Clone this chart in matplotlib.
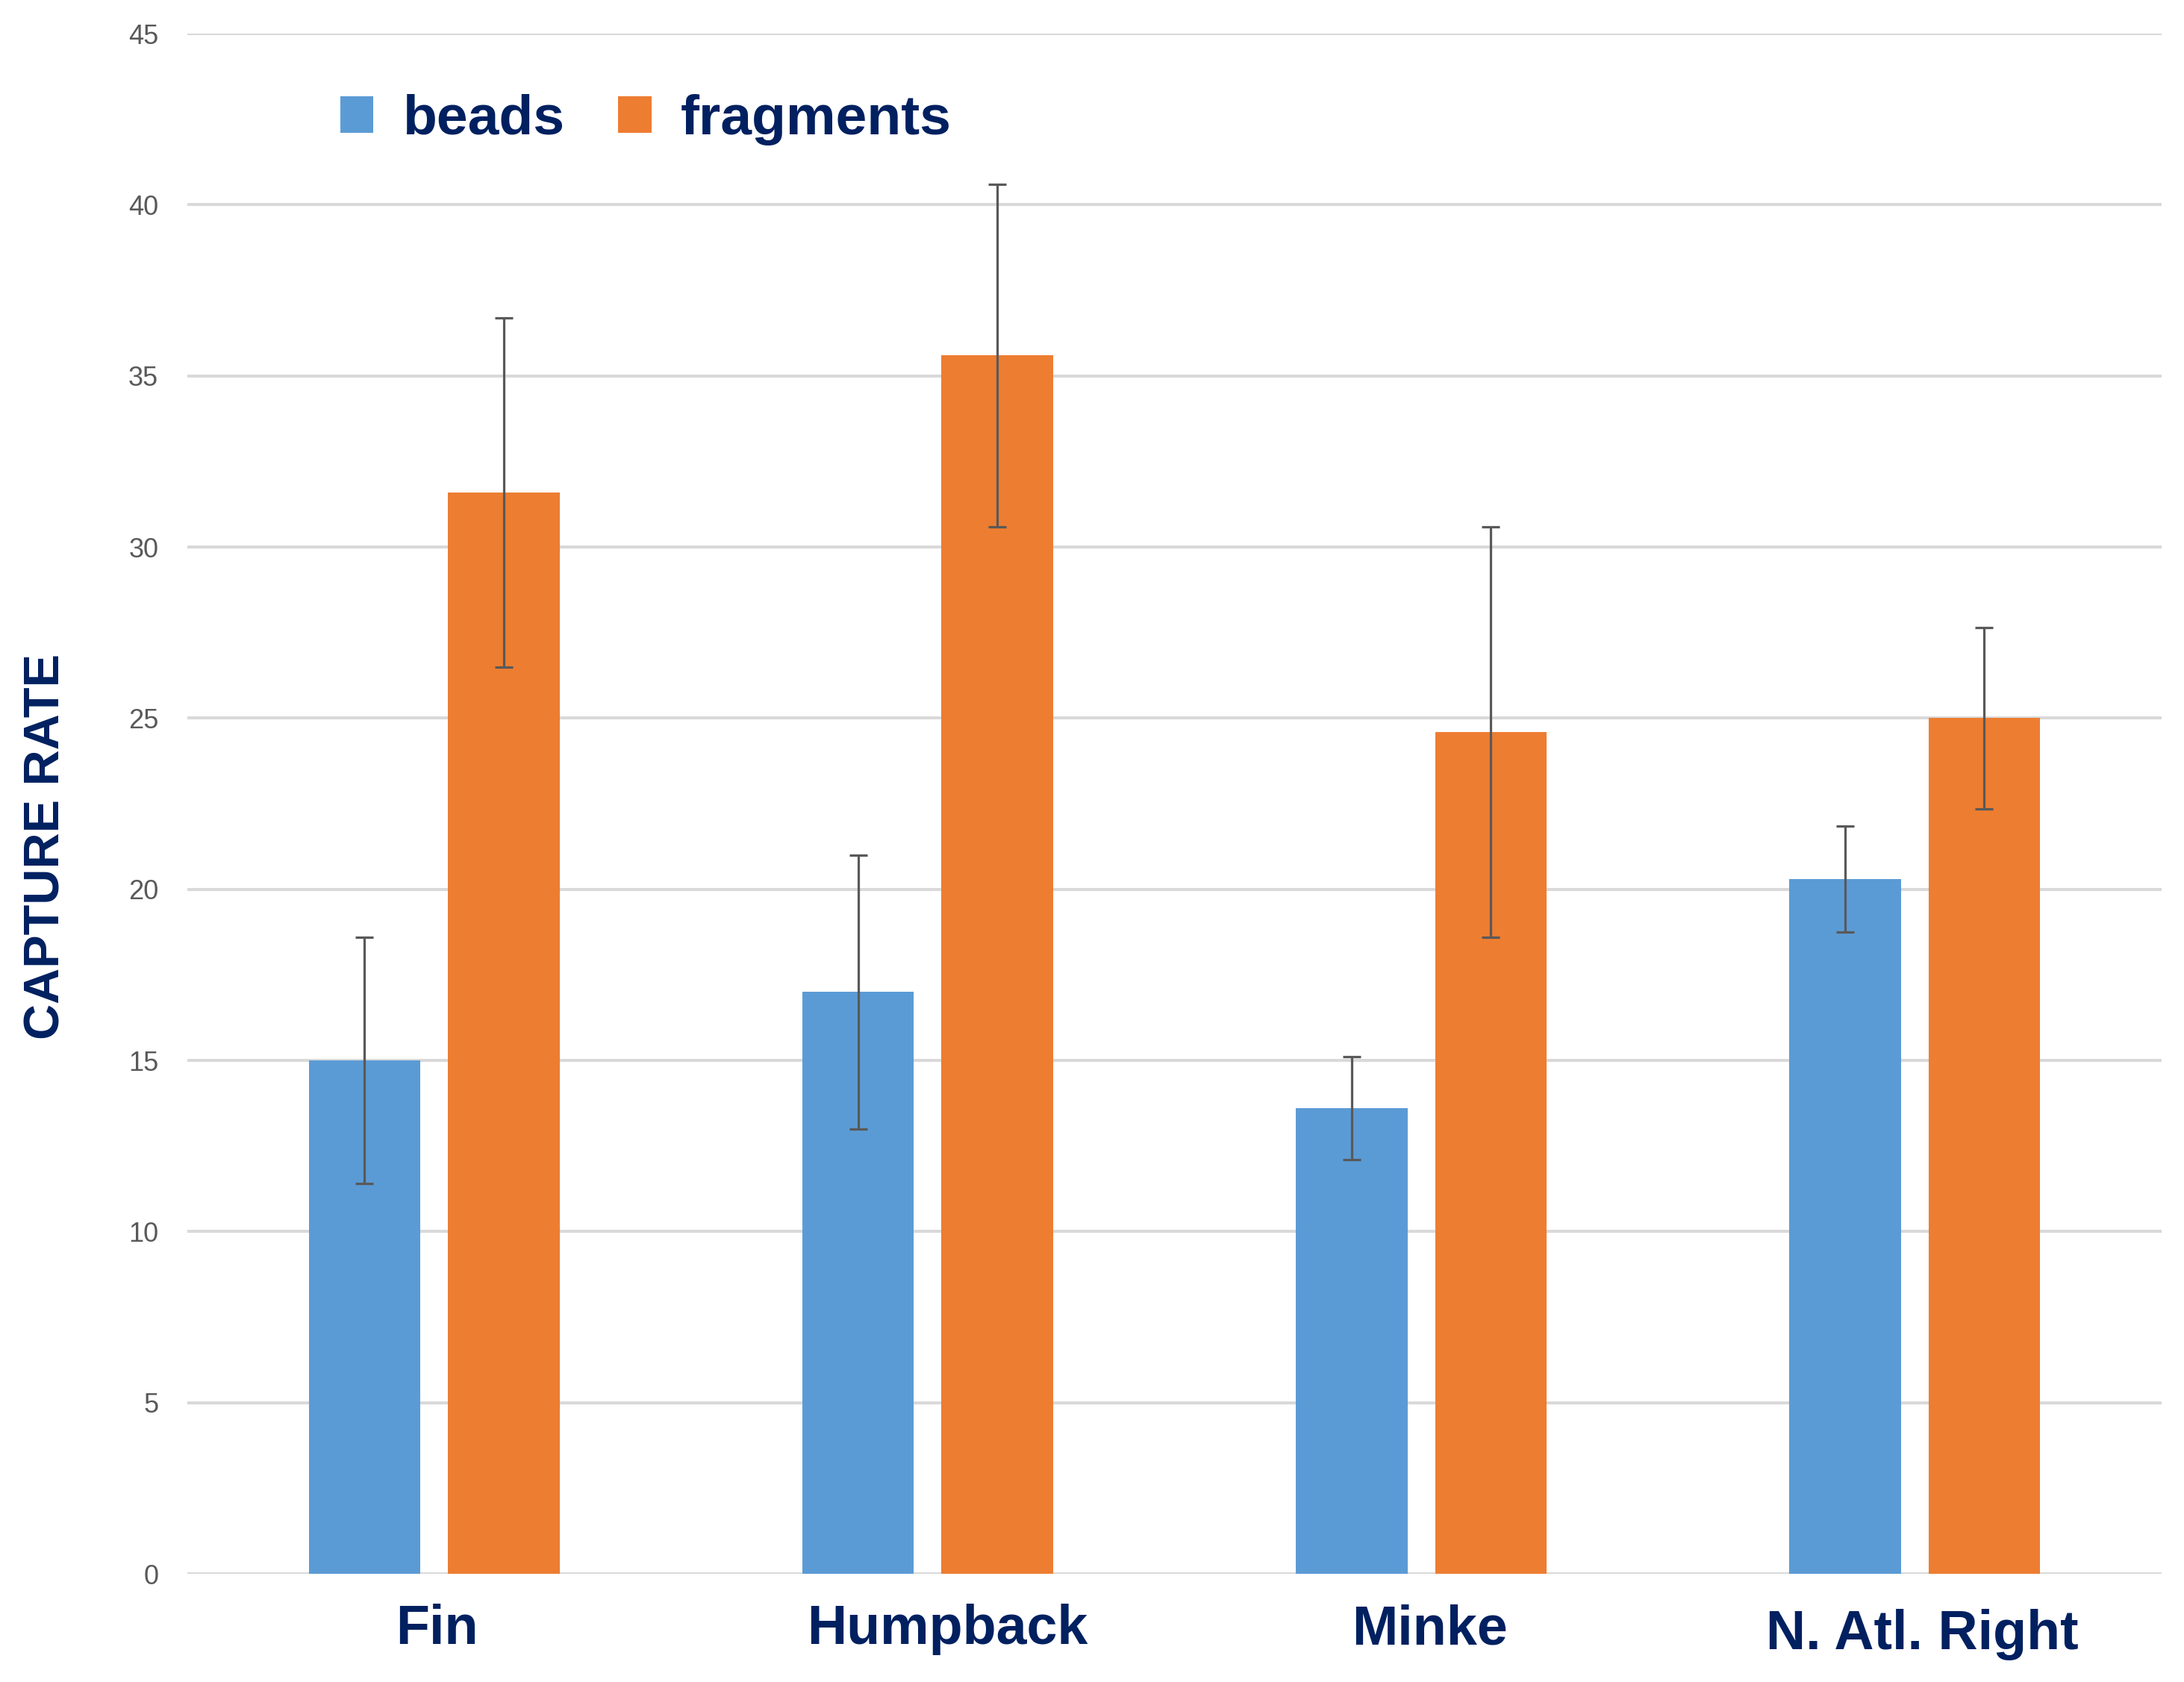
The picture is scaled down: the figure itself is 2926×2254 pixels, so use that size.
import matplotlib.pyplot as plt
import numpy as np
from matplotlib.transforms import ScaledTranslation

species = ['Fin', 'Humpback', 'Minke', 'N. Atl. Right']
beads = [15.0, 17.0, 13.6, 20.3]
beads_err = [3.6, 4.0, 1.5, 1.55]
fragments = [31.6, 35.6, 24.6, 25.0]
fragments_err = [5.1, 5.0, 6.0, 2.65]
y_ticks = [0, 5, 10, 15, 20, 25, 30, 35, 40, 45]

FONT = 'Liberation Sans'
NAVY = '#002060'
BLUE = '#5B9BD5'
ORANGE = '#ED7D31'
GRAY = '#595959'

# small nudges (points) so the category labels sit where the original put them
label_nudge = [(3, 0), (19, 0), (8, 0), (7, -5)]


def main():
    fig = plt.figure(figsize=(29.26, 22.54), dpi=100)
    ax = fig.add_axes([0.0858, 0.0643, 0.9039, 0.9157])

    x = np.arange(len(species))
    width = 0.226
    offset = 0.141
    err_kw = dict(ecolor=GRAY, elinewidth=2.3, capsize=8.6, capthick=2.3)
    ax.bar(x - offset, beads, width, yerr=beads_err, color=BLUE, label='beads',
           error_kw=err_kw, zorder=3)
    ax.bar(x + offset, fragments, width, yerr=fragments_err, color=ORANGE, label='fragments',
           error_kw=err_kw, zorder=3)

    ax.set_xlim(-0.5, 3.5)
    ax.set_ylim(0, 45)
    ax.set_yticks(y_ticks)
    ax.yaxis.grid(True, color='#D9D9D9', linewidth=2.9, zorder=0)
    ax.set_axisbelow(True)
    for side in ['top', 'right', 'left', 'bottom']:
        ax.spines[side].set_visible(False)
    ax.tick_params(axis='y', length=0, pad=28, labelsize=26, labelcolor=GRAY)
    ax.tick_params(axis='x', length=0, pad=29)
    for lbl in ax.get_yticklabels():
        lbl.set_family(FONT)

    ax.set_xticks(x)
    ax.set_xticklabels(species, fontsize=53, fontweight='bold', color=NAVY, family=FONT)
    for lbl, (dx, dy) in zip(ax.get_xticklabels(), label_nudge):
        lbl.set_transform(lbl.get_transform() + ScaledTranslation(dx / 72, dy / 72, fig.dpi_scale_trans))

    ax.set_ylabel('CAPTURE RATE', fontsize=48, fontweight='bold', color=NAVY, family=FONT)
    ax.yaxis.set_label_coords(-0.0597, 0.472)

    leg = ax.legend(loc='upper left', bbox_to_anchor=(0.0775, 0.961), ncol=2, frameon=False,
                    borderpad=0, borderaxespad=0,
                    handlelength=0.59, handleheight=0.63, handletextpad=0.52, columnspacing=0.96,
                    prop=dict(family=FONT, weight='bold', size=54))
    for t in leg.get_texts():
        t.set_color(NAVY)

    fig.savefig('out.png')


if __name__ == '__main__':
    main()
